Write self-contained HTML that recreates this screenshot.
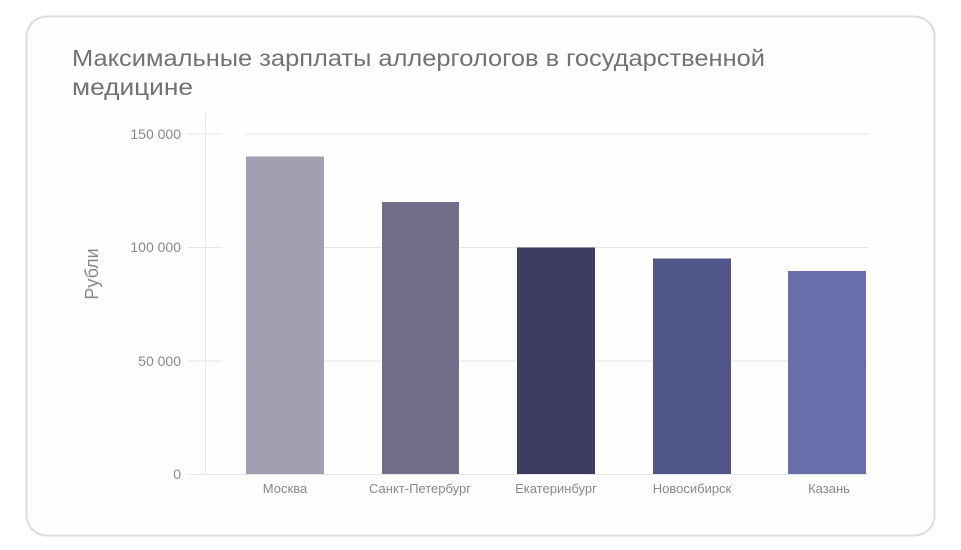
<!DOCTYPE html>
<html><head><meta charset="utf-8"><style>
html,body{margin:0;padding:0;background:#fff;width:961px;height:550px;overflow:hidden}
svg{display:block;font-family:"Liberation Sans","DejaVu Sans",sans-serif}
</style></head><body>
<svg width="961" height="550" viewBox="0 0 961 550">
<rect x="26.5" y="16.5" width="908" height="519" rx="20" fill="#fefefe" stroke="#dcdcdf" stroke-width="2"/>
<text x="72" y="66" font-size="23" fill="#727272" textLength="693" lengthAdjust="spacingAndGlyphs">Максимальные зарплаты аллергологов в государственной</text>
<text x="72" y="95" font-size="23" fill="#727272" textLength="121" lengthAdjust="spacingAndGlyphs">медицине</text>
<g stroke="#e6e6e9" stroke-width="1">
<line x1="245" y1="134" x2="868" y2="134"/>
<line x1="245" y1="247.5" x2="868" y2="247.5"/>
<line x1="245" y1="361" x2="868" y2="361"/>
<line x1="188" y1="134" x2="222" y2="134"/>
<line x1="188" y1="247.5" x2="222" y2="247.5"/>
<line x1="188" y1="361" x2="222" y2="361"/>
<line x1="188" y1="474.5" x2="868" y2="474.5"/>
<line x1="205.5" y1="113" x2="205.5" y2="474"/>
</g>
<g font-size="14" fill="#888" text-anchor="end">
<text x="181" y="139">150 000</text>
<text x="181" y="252">100 000</text>
<text x="181" y="366">50 000</text>
<text x="181" y="479">0</text>
</g>
<text x="0" y="0" font-size="18" fill="#888" text-anchor="middle" transform="translate(98,274) rotate(-90)">Рубли</text>
<rect x="246" y="156.5" width="78" height="317.5" fill="#a09fb1"/>
<rect x="382" y="202" width="77" height="272" fill="#726e89"/>
<rect x="517" y="247.5" width="78" height="226.5" fill="#3e3c62"/>
<rect x="653" y="258.5" width="78" height="215.5" fill="#51568a"/>
<rect x="788" y="271" width="78" height="203" fill="#696eab"/>
<g font-size="13" fill="#888" text-anchor="middle">
<text x="285" y="493">Москва</text>
<text x="420" y="493">Санкт-Петербург</text>
<text x="556" y="493">Екатеринбург</text>
<text x="692" y="493">Новосибирск</text>
<text x="829" y="493">Казань</text>
</g>
</svg>
</body></html>
